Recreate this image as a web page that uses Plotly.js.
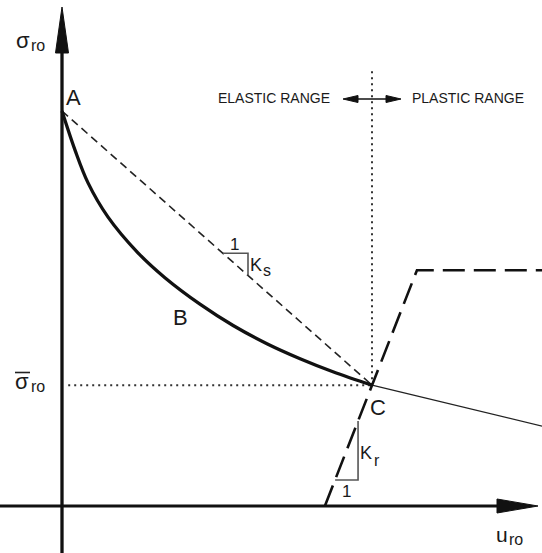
<!DOCTYPE html>
<html>
<head>
<meta charset="utf-8">
<script src="https://cdn.plot.ly/plotly-3.0.1.min.js"></script>
<style>html,body{margin:0;padding:0;background:#fff;}#chart{width:542px;height:553px;}</style>
</head>
<body>
<div id="chart"></div>
<script>
// ---- data (schematic units: u = radial displacement, s = radial stress) ----
const pointA = [0, 100];          // [u, s]
const pointC = [100, 30.6];
const grcU = [0, 4.2, 8.4, 14.8, 24.5, 33.2, 44.5, 55.2, 66.1, 76.8, 87.4, 100];
const grcS = [100, 90.1, 81.8, 73.2, 64.1, 57.8, 51.1, 45.7, 41.1, 37.3, 34.0, 30.6];
const plasticU = [100, 156];
const plasticS = [30.6, 20.0];
const supportU = [84.8, 114.5, 160];
const supportS = [0, 59.7, 59.7];
const ksTriU = [51.9, 60, 60];
const ksTriS = [64.0, 64.0, 58.4];
const krTriU = [88.1, 95.5, 95.5];
const krTriS = [6.6, 6.6, 21.5];
const dottedTopS = 110.5;
const dottedLeftU = 2;

// ---- pixel <-> data helpers (margin 0, axes fill the figure) ----
const PXU = 3.1, PXS = 3.95, X0 = 62, Y0 = 506;
const U = px => (px - X0) / PXU;
const S = py => (Y0 - py) / PXS;

const black = '#111';
const traces = [
  {x: [dottedLeftU, pointC[0]], y: [pointC[1], pointC[1]], mode: 'lines',
   line: {color: '#333', width: 2, dash: '2px,4px'}},
  {x: [pointC[0], pointC[0]], y: [pointC[1], dottedTopS], mode: 'lines',
   line: {color: '#333', width: 2, dash: '2px,4px'}},
  {x: [pointA[0], pointC[0]], y: [pointA[1], pointC[1]], mode: 'lines',
   line: {color: '#222', width: 1.6, dash: '8px,5px'}},
  {x: plasticU, y: plasticS, mode: 'lines', line: {color: '#222', width: 1.3}},
  {x: grcU, y: grcS, mode: 'lines', line: {color: black, width: 3.3, shape: 'spline', smoothing: 1}},
  {x: supportU, y: supportS, mode: 'lines', line: {color: black, width: 2.6, dash: '22px,9px'}},
  {x: ksTriU, y: ksTriS, mode: 'lines', line: {color: '#555', width: 1.6}},
  {x: krTriU, y: krTriS, mode: 'lines', line: {color: '#555', width: 1.6}}
];

function tri(a, b, c) {
  return 'M' + a[0] + ',' + a[1] + ' L' + b[0] + ',' + b[1] + ' L' + c[0] + ',' + c[1] + ' Z';
}
const shapes = [
  // vertical axis
  {type: 'line', xref: 'x', yref: 'y', x0: 0, x1: 0, y0: S(553), y1: S(50), line: {color: black, width: 3.3}},
  {type: 'path', xref: 'x', yref: 'y', path: tri([U(55.5), S(53)], [U(68.5), S(53)], [0, S(7)]),
   fillcolor: black, line: {color: black, width: 1}},
  // horizontal axis
  {type: 'line', xref: 'x', yref: 'y', x0: U(0), x1: U(500), y0: 0, y1: 0, line: {color: black, width: 3}},
  {type: 'path', xref: 'x', yref: 'y', path: tri([U(497), S(499)], [U(497), S(513)], [U(538), 0]),
   fillcolor: black, line: {color: black, width: 1}},
  // elastic / plastic double arrow
  {type: 'line', xref: 'x', yref: 'y', x0: U(350), x1: U(394), y0: S(99), y1: S(99), line: {color: black, width: 1.5}},
  {type: 'path', xref: 'x', yref: 'y', path: tri([U(343), S(99)], [U(358), S(95.5)], [U(358), S(102.5)]),
   fillcolor: black, line: {color: black, width: 1}},
  {type: 'path', xref: 'x', yref: 'y', path: tri([U(401), S(99)], [U(386), S(95.5)], [U(386), S(102.5)]),
   fillcolor: black, line: {color: black, width: 1}},
  // overbar of sigma-bar
  {type: 'line', xref: 'x', yref: 'y', x0: U(15), x1: U(30), y0: S(372.5), y1: S(372.5), line: {color: '#222', width: 1.6}}
];

const F = 'Liberation Sans, Arial, sans-serif';
function lab(text, px, py, size, anchor) {
  return {text: text, x: U(px), y: S(py), xref: 'x', yref: 'y', showarrow: false,
          xanchor: anchor || 'center', yanchor: 'middle',
          font: {family: F, size: size, color: '#1a1a1a'}};
}
const annotations = [
  lab('σ', 23, 40, 22), lab('ro', 38, 45, 16),
  lab('σ', 22, 381, 22), lab('ro', 38, 386, 16),
  lab('u', 502, 534, 21), lab('ro', 516, 539, 16),
  lab('A', 73, 97, 22), lab('B', 180, 317, 22), lab('C', 378, 407, 22),
  lab('ELASTIC RANGE', 274, 98, 14), lab('PLASTIC RANGE', 468, 98, 14),
  lab('1', 234, 244, 17), lab('K', 256, 265, 18), lab('s', 267, 270, 16),
  lab('1', 346, 491, 17), lab('K', 366, 453, 18), lab('r', 377, 460, 16)
];

const layout = {
  width: 542, height: 553,
  margin: {l: 0, r: 0, t: 0, b: 0, pad: 0},
  paper_bgcolor: '#fff', plot_bgcolor: '#fff',
  showlegend: false,
  xaxis: {range: [U(0), U(542)], visible: false, fixedrange: true},
  yaxis: {range: [S(553), S(0)], visible: false, fixedrange: true},
  shapes: shapes,
  annotations: annotations
};
Plotly.newPlot('chart', traces, layout, {staticPlot: true, displayModeBar: false});
</script>
</body>
</html>
